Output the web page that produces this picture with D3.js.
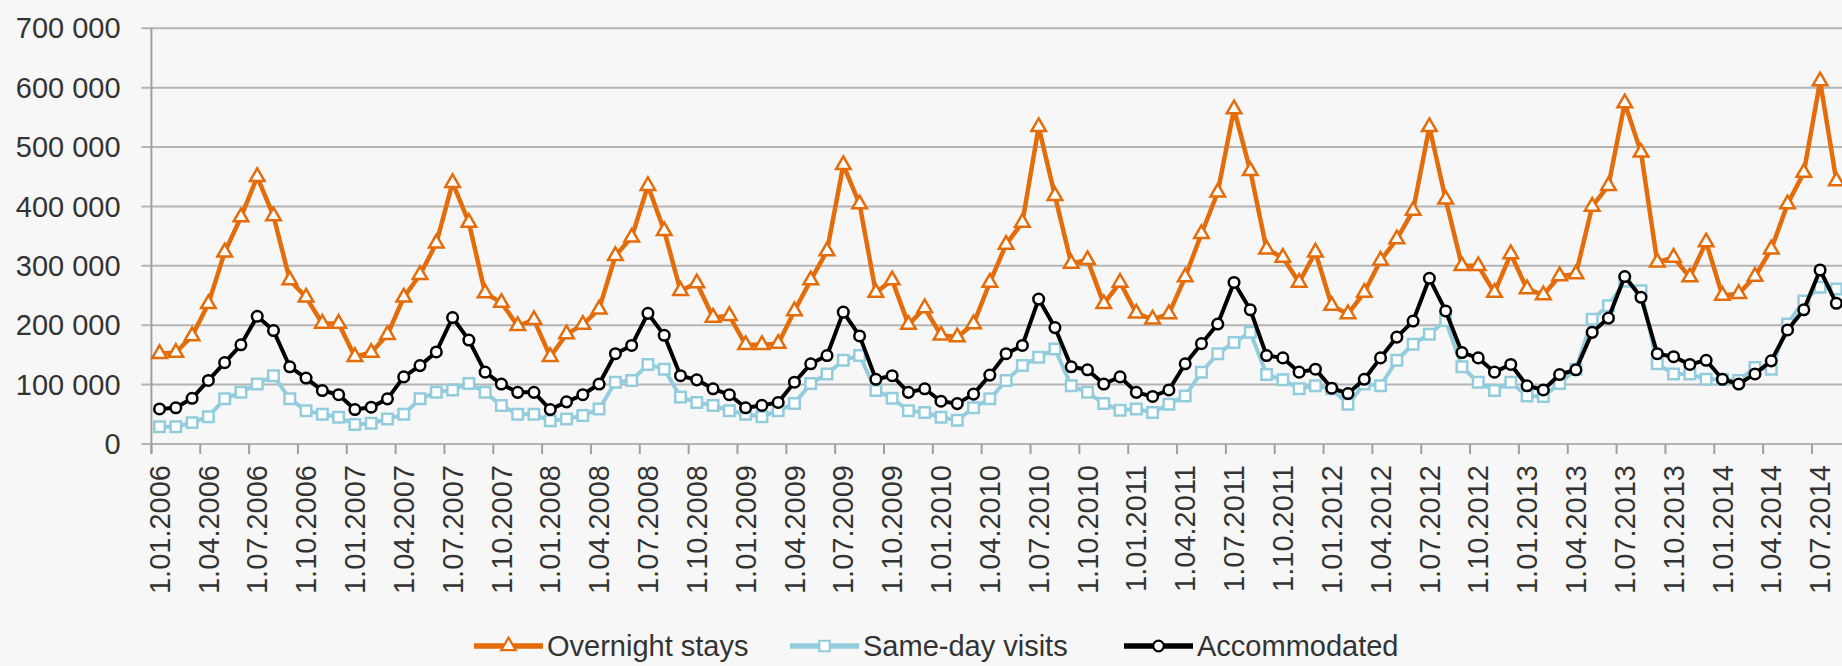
<!DOCTYPE html>
<html><head><meta charset="utf-8">
<script src="https://cdn.jsdelivr.net/npm/d3@7/dist/d3.min.js"></script>
<style>
html,body{margin:0;padding:0;background:#f7f7f7;overflow:hidden}
svg{display:block}
text{font-family:"Liberation Sans",Arial,sans-serif;fill:#333333}
</style></head><body>
<svg id="chart" width="1842" height="666"></svg>
<script>
// Monthly values in thousands, January 2006 – August 2014
const overnightStays = [
  152,154,182,236,323,382,450,384,276,247,203,203,
  147,154,184,247,285,338,440,373,254,238,199,209,
  147,185,201,227,317,348,435,359,258,271,213,216,
  167,167,169,224,276,325,470,404,255,276,201,229,
  183,180,202,272,336,373,534,418,304,310,236,272,
  220,210,219,281,354,424,564,460,328,314,272,323,
  233,219,255,309,345,393,534,412,300,300,255,320,
  261,251,283,286,400,435,574,491,306,314,281,340,
  250,253,282,328,404,457,611,443
];
const sameDayVisits = [
  29,29,36,46,76,87,101,115,76,56,50,45,
  33,35,42,50,76,87,91,102,87,65,50,50,
  39,42,48,59,104,107,134,126,79,70,65,56,
  50,46,56,68,102,118,141,149,90,77,56,53,
  45,40,61,76,107,132,146,160,98,87,68,57,
  59,53,67,81,121,152,171,188,117,108,93,98,
  93,67,101,98,141,168,185,208,130,104,90,104,
  81,80,102,126,210,233,274,258,135,118,118,109,
  109,107,129,126,202,241,264,261
];
const accommodated = [
  59,61,77,107,137,167,215,191,130,111,90,83,
  58,62,76,113,132,155,213,175,121,101,87,87,
  58,71,83,101,152,166,220,183,115,108,93,83,
  61,65,70,104,135,149,222,182,109,115,87,93,
  72,68,84,116,152,166,244,196,130,125,101,113,
  87,80,91,135,169,202,272,226,149,145,121,126,
  94,85,109,145,180,207,279,224,154,145,121,134,
  98,91,117,125,188,212,282,247,152,147,134,141,
  109,101,118,140,192,226,293,237
];
const seriesNames = ["Overnight stays","Same-day visits","Accommodated"];
const yTickValues = [0,100,200,300,400,500,600,700];
const tickLabels = [
  "1.01.2006","1.04.2006","1.07.2006","1.10.2006",
  "1.01.2007","1.04.2007","1.07.2007","1.10.2007",
  "1.01.2008","1.04.2008","1.07.2008","1.10.2008",
  "1.01.2009","1.04.2009","1.07.2009","1.10.2009",
  "1.01.2010","1.04.2010","1.07.2010","1.10.2010",
  "1.01.2011","1.04.2011","1.07.2011","1.10.2011",
  "1.01.2012","1.04.2012","1.07.2012","1.10.2012",
  "1.01.2013","1.04.2013","1.07.2013","1.10.2013",
  "1.01.2014","1.04.2014","1.07.2014"
];

(function () {
// categories: one per month
const categories = overnightStays.map((_, i) => {
  const m = i % 12 + 1, yr = 2006 + Math.floor(i / 12);
  return "1." + String(m).padStart(2, "0") + "." + yr;
});

const W = 1842;
const plotLeft = 151.4, plotTop = 28.3, plotBottom = 444, step = 16.28;
const svg = d3.select("#chart");

const x = d3.scaleBand().domain(categories)
  .range([plotLeft, plotLeft + categories.length * step]).padding(0);
const y = d3.scaleLinear().domain([0, 700]).range([plotBottom, plotTop]);
const cx = c => x(c) + x.bandwidth() / 2;

// gridlines
svg.append("g").selectAll("line").data(yTickValues).join("line")
  .attr("x1", plotLeft - 10).attr("x2", W)
  .attr("y1", d => y(d)).attr("y2", d => y(d))
  .attr("stroke", "#b4b4b4").attr("stroke-width", 2);

// y axis line
svg.append("line").attr("x1", plotLeft).attr("x2", plotLeft)
  .attr("y1", plotTop).attr("y2", plotBottom + 10)
  .attr("stroke", "#a0a0a0").attr("stroke-width", 2);

// y labels
const fmt = v => d3.format(",")(v * 1000).replace(/,/g, " ");
svg.append("g").selectAll("text").data(yTickValues).join("text")
  .attr("x", 120.6).attr("y", d => y(d)).attr("dy", "0.35em")
  .attr("text-anchor", "end").attr("font-size", 29).text(fmt);

// x ticks at category boundaries every 3 months
const tickCats = categories.filter((_, i) => i % 3 === 0);
svg.append("g").selectAll("line").data(tickCats).join("line")
  .attr("x1", d => x(d)).attr("x2", d => x(d))
  .attr("y1", plotBottom).attr("y2", plotBottom + 10)
  .attr("stroke", "#a0a0a0").attr("stroke-width", 2);

// x labels
svg.append("g").selectAll("text").data(tickLabels).join("text")
  .attr("transform", d => `translate(${cx(d)},${plotBottom + 21}) rotate(-90)`)
  .attr("dy", "0.35em").attr("text-anchor", "end")
  .attr("font-size", 29).text(d => d);

// series
const series = [
  {name: seriesNames[0], values: overnightStays, color: "#e46c0a", lw: 4.5, sym: d3.symbolTriangle, size: 92},
  {name: seriesNames[1], values: sameDayVisits, color: "#93cddd", lw: 4, sym: d3.symbolSquare, size: 110},
  {name: seriesNames[2], values: accommodated, color: "#000000", lw: 4, sym: d3.symbolCircle, size: 88}
];
const line = d3.line().x((d, i) => cx(categories[i])).y(d => y(d));
series.forEach(s => {
  const g = svg.append("g");
  g.append("path").datum(s.values).attr("d", line)
    .attr("fill", "none").attr("stroke", s.color).attr("stroke-width", s.lw)
    .attr("stroke-linejoin", "round");
  g.selectAll("path.m").data(s.values).join("path").attr("class", "m")
    .attr("d", d3.symbol().type(s.sym).size(s.size))
    .attr("transform", (d, i) => `translate(${cx(categories[i])},${y(d)})`)
    .attr("fill", "#ffffff").attr("stroke", s.color).attr("stroke-width", 2.5);
});

// legend
const legendX = [474, 790, 1124];
const ly = 646;
series.forEach((s, k) => {
  const g = svg.append("g").attr("transform", `translate(${legendX[k]},${ly})`);
  g.append("line").attr("x1", 0).attr("x2", 69).attr("y1", 0).attr("y2", 0)
    .attr("stroke", s.color).attr("stroke-width", 5.5);
  g.append("path").attr("d", d3.symbol().type(s.sym).size(s.size))
    .attr("transform", "translate(34.5,0)")
    .attr("fill", "#ffffff").attr("stroke", s.color).attr("stroke-width", 2.2);
  g.append("text").attr("x", 73).attr("y", 0).attr("dy", "0.35em")
    .attr("font-size", 29).text(s.name);
});
})();
</script>
</body></html>
